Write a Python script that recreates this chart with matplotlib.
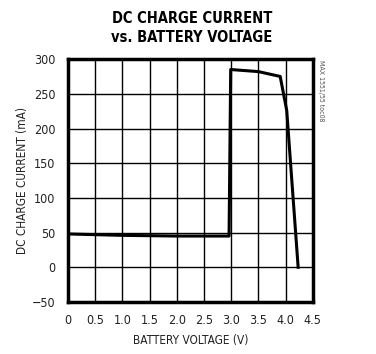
import matplotlib
matplotlib.use("Agg")
import matplotlib.pyplot as plt

# data
volts = [0.0, 1.0, 2.0, 2.96, 2.99, 3.5, 3.9, 4.02, 4.23]
current = [48, 46, 45, 45, 285, 282, 275, 226, 0]

xticks = [0, 0.5, 1.0, 1.5, 2.0, 2.5, 3.0, 3.5, 4.0, 4.5]
xlabels = ["0", "0.5", "1.0", "1.5", "2.0", "2.5", "3.0", "3.5", "4.0", "4.5"]
yticks = [-50, 0, 50, 100, 150, 200, 250, 300]

plt.rcParams['font.family'] = ['DejaVu Sans']
plt.rcParams['font.stretch'] = 'condensed'

fig = plt.figure(figsize=(3.76, 3.54), dpi=100)
ax = fig.add_axes([0.181, 0.147, 0.651, 0.686])

ax.plot(volts, current, color='black', lw=2.2)
ax.set_xlim(0, 4.5)
ax.set_ylim(-50, 300)
ax.set_xticks(xticks)
ax.set_xticklabels(xlabels)
ax.set_yticks(yticks)
ax.grid(True, color='black', lw=1.0)
for s in ax.spines.values():
    s.set_linewidth(2.5)
ax.tick_params(length=0, pad=9, labelsize=9, labelcolor='#222222')

ax.set_xlabel("BATTERY VOLTAGE (V)", fontsize=8.5, labelpad=5, color='#222222')
ax.set_ylabel("DC CHARGE CURRENT (mA)", fontsize=8.5, labelpad=2, color='#222222')

fig.text(0.51, 0.947, "DC CHARGE CURRENT", ha='center', va='center',
         fontsize=10.5, fontweight='bold')
fig.text(0.51, 0.893, "vs. BATTERY VOLTAGE", ha='center', va='center',
         fontsize=10.5, fontweight='bold')
fig.text(0.855, 0.83, "MAX 1551/55 toc08", rotation=-90, ha='center', va='top',
         fontsize=5, color='#555555')

fig.savefig("out.png", dpi=100)
